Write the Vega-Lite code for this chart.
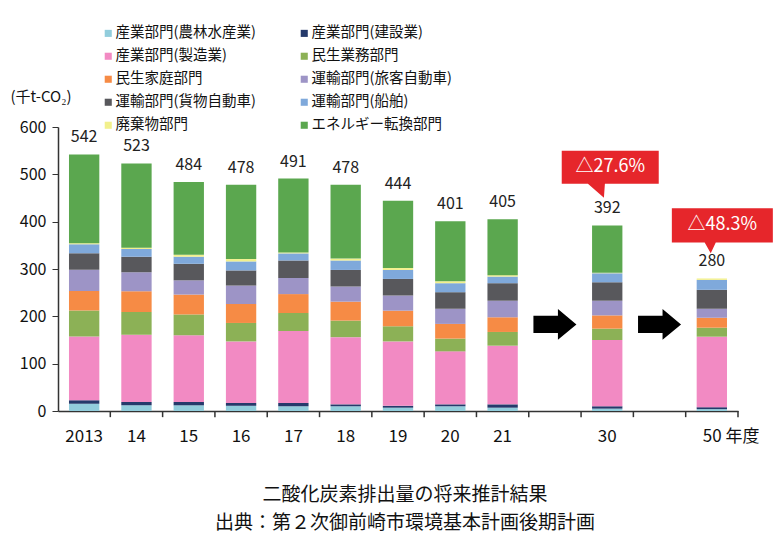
{
  "$schema": "https://vega.github.io/schema/vega-lite/v6.json",
  "width": 680,
  "height": 284,
  "autosize": "none",
  "padding": {"left": 58, "top": 127, "right": 41, "bottom": 130},
  "background": "white",
  "config": {"font": "Noto Sans CJK JP", "view": {"stroke": null}, "axis": {"grid": false}},
  "datasets": {
    "cats": [
      {"cat": "産業部門(農林水産業)", "k": 1},
      {"cat": "産業部門(建設業)", "k": 2},
      {"cat": "産業部門(製造業)", "k": 3},
      {"cat": "民生業務部門", "k": 4},
      {"cat": "民生家庭部門", "k": 5},
      {"cat": "運輸部門(旅客自動車)", "k": 6},
      {"cat": "運輸部門(貨物自動車)", "k": 7},
      {"cat": "運輸部門(船舶)", "k": 8},
      {"cat": "廃棄物部門", "k": 9},
      {"cat": "エネルギー転換部門", "k": 10}
    ],
    "slots": [
      {"year": "2013"}, {"year": "14"}, {"year": "15"}, {"year": "16"}, {"year": "17"}, {"year": "18"}, {"year": "19"},
      {"year": "20"}, {"year": "21"}, {"year": "a1"}, {"year": "30"}, {"year": "a2"}, {"year": "50"}
    ],
    "totals": [
      {"year": "2013", "total": 542}, {"year": "14", "total": 523}, {"year": "15", "total": 484},
      {"year": "16", "total": 478}, {"year": "17", "total": 491}, {"year": "18", "total": 478},
      {"year": "19", "total": 444}, {"year": "20", "total": 401}, {"year": "21", "total": 405},
      {"year": "30", "total": 392}, {"year": "50", "total": 280}
    ],
    "segs": [
      {"year": "2013", "cat": "産業部門(農林水産業)", "v": 15.5},
      {"year": "2013", "cat": "産業部門(建設業)", "v": 7},
      {"year": "2013", "cat": "産業部門(製造業)", "v": 135},
      {"year": "2013", "cat": "民生業務部門", "v": 55},
      {"year": "2013", "cat": "民生家庭部門", "v": 41},
      {"year": "2013", "cat": "運輸部門(旅客自動車)", "v": 45},
      {"year": "2013", "cat": "運輸部門(貨物自動車)", "v": 35},
      {"year": "2013", "cat": "運輸部門(船舶)", "v": 19},
      {"year": "2013", "cat": "廃棄物部門", "v": 2},
      {"year": "2013", "cat": "エネルギー転換部門", "v": 187.5},
      {"year": "14", "cat": "産業部門(農林水産業)", "v": 12},
      {"year": "14", "cat": "産業部門(建設業)", "v": 7},
      {"year": "14", "cat": "産業部門(製造業)", "v": 142},
      {"year": "14", "cat": "民生業務部門", "v": 48},
      {"year": "14", "cat": "民生家庭部門", "v": 44},
      {"year": "14", "cat": "運輸部門(旅客自動車)", "v": 40},
      {"year": "14", "cat": "運輸部門(貨物自動車)", "v": 33},
      {"year": "14", "cat": "運輸部門(船舶)", "v": 16},
      {"year": "14", "cat": "廃棄物部門", "v": 3},
      {"year": "14", "cat": "エネルギー転換部門", "v": 178},
      {"year": "15", "cat": "産業部門(農林水産業)", "v": 12},
      {"year": "15", "cat": "産業部門(建設業)", "v": 7},
      {"year": "15", "cat": "産業部門(製造業)", "v": 141},
      {"year": "15", "cat": "民生業務部門", "v": 44},
      {"year": "15", "cat": "民生家庭部門", "v": 42},
      {"year": "15", "cat": "運輸部門(旅客自動車)", "v": 30},
      {"year": "15", "cat": "運輸部門(貨物自動車)", "v": 35},
      {"year": "15", "cat": "運輸部門(船舶)", "v": 15},
      {"year": "15", "cat": "廃棄物部門", "v": 4},
      {"year": "15", "cat": "エネルギー転換部門", "v": 154},
      {"year": "16", "cat": "産業部門(農林水産業)", "v": 11},
      {"year": "16", "cat": "産業部門(建設業)", "v": 6},
      {"year": "16", "cat": "産業部門(製造業)", "v": 130},
      {"year": "16", "cat": "民生業務部門", "v": 39},
      {"year": "16", "cat": "民生家庭部門", "v": 40},
      {"year": "16", "cat": "運輸部門(旅客自動車)", "v": 39},
      {"year": "16", "cat": "運輸部門(貨物自動車)", "v": 32},
      {"year": "16", "cat": "運輸部門(船舶)", "v": 19},
      {"year": "16", "cat": "廃棄物部門", "v": 5},
      {"year": "16", "cat": "エネルギー転換部門", "v": 157},
      {"year": "17", "cat": "産業部門(農林水産業)", "v": 10},
      {"year": "17", "cat": "産業部門(建設業)", "v": 7},
      {"year": "17", "cat": "産業部門(製造業)", "v": 152},
      {"year": "17", "cat": "民生業務部門", "v": 38},
      {"year": "17", "cat": "民生家庭部門", "v": 40},
      {"year": "17", "cat": "運輸部門(旅客自動車)", "v": 34},
      {"year": "17", "cat": "運輸部門(貨物自動車)", "v": 37},
      {"year": "17", "cat": "運輸部門(船舶)", "v": 15},
      {"year": "17", "cat": "廃棄物部門", "v": 2},
      {"year": "17", "cat": "エネルギー転換部門", "v": 156},
      {"year": "18", "cat": "産業部門(農林水産業)", "v": 10},
      {"year": "18", "cat": "産業部門(建設業)", "v": 4},
      {"year": "18", "cat": "産業部門(製造業)", "v": 142},
      {"year": "18", "cat": "民生業務部門", "v": 35},
      {"year": "18", "cat": "民生家庭部門", "v": 40},
      {"year": "18", "cat": "運輸部門(旅客自動車)", "v": 32},
      {"year": "18", "cat": "運輸部門(貨物自動車)", "v": 35},
      {"year": "18", "cat": "運輸部門(船舶)", "v": 20},
      {"year": "18", "cat": "廃棄物部門", "v": 4},
      {"year": "18", "cat": "エネルギー転換部門", "v": 156},
      {"year": "19", "cat": "産業部門(農林水産業)", "v": 7},
      {"year": "19", "cat": "産業部門(建設業)", "v": 4},
      {"year": "19", "cat": "産業部門(製造業)", "v": 136},
      {"year": "19", "cat": "民生業務部門", "v": 32},
      {"year": "19", "cat": "民生家庭部門", "v": 33},
      {"year": "19", "cat": "運輸部門(旅客自動車)", "v": 32},
      {"year": "19", "cat": "運輸部門(貨物自動車)", "v": 35},
      {"year": "19", "cat": "運輸部門(船舶)", "v": 19},
      {"year": "19", "cat": "廃棄物部門", "v": 4},
      {"year": "19", "cat": "エネルギー転換部門", "v": 142},
      {"year": "20", "cat": "産業部門(農林水産業)", "v": 10},
      {"year": "20", "cat": "産業部門(建設業)", "v": 4},
      {"year": "20", "cat": "産業部門(製造業)", "v": 112},
      {"year": "20", "cat": "民生業務部門", "v": 27},
      {"year": "20", "cat": "民生家庭部門", "v": 31},
      {"year": "20", "cat": "運輸部門(旅客自動車)", "v": 32},
      {"year": "20", "cat": "運輸部門(貨物自動車)", "v": 35},
      {"year": "20", "cat": "運輸部門(船舶)", "v": 19},
      {"year": "20", "cat": "廃棄物部門", "v": 4},
      {"year": "20", "cat": "エネルギー転換部門", "v": 127},
      {"year": "21", "cat": "産業部門(農林水産業)", "v": 7},
      {"year": "21", "cat": "産業部門(建設業)", "v": 7},
      {"year": "21", "cat": "産業部門(製造業)", "v": 124},
      {"year": "21", "cat": "民生業務部門", "v": 29},
      {"year": "21", "cat": "民生家庭部門", "v": 31},
      {"year": "21", "cat": "運輸部門(旅客自動車)", "v": 35},
      {"year": "21", "cat": "運輸部門(貨物自動車)", "v": 37},
      {"year": "21", "cat": "運輸部門(船舶)", "v": 14},
      {"year": "21", "cat": "廃棄物部門", "v": 3},
      {"year": "21", "cat": "エネルギー転換部門", "v": 118},
      {"year": "30", "cat": "産業部門(農林水産業)", "v": 5},
      {"year": "30", "cat": "産業部門(建設業)", "v": 5},
      {"year": "30", "cat": "産業部門(製造業)", "v": 140},
      {"year": "30", "cat": "民生業務部門", "v": 24},
      {"year": "30", "cat": "民生家庭部門", "v": 28},
      {"year": "30", "cat": "運輸部門(旅客自動車)", "v": 31},
      {"year": "30", "cat": "運輸部門(貨物自動車)", "v": 39},
      {"year": "30", "cat": "運輸部門(船舶)", "v": 19},
      {"year": "30", "cat": "廃棄物部門", "v": 1},
      {"year": "30", "cat": "エネルギー転換部門", "v": 100},
      {"year": "50", "cat": "産業部門(農林水産業)", "v": 4},
      {"year": "50", "cat": "産業部門(建設業)", "v": 4},
      {"year": "50", "cat": "産業部門(製造業)", "v": 149},
      {"year": "50", "cat": "民生業務部門", "v": 19},
      {"year": "50", "cat": "民生家庭部門", "v": 21},
      {"year": "50", "cat": "運輸部門(旅客自動車)", "v": 19},
      {"year": "50", "cat": "運輸部門(貨物自動車)", "v": 40},
      {"year": "50", "cat": "運輸部門(船舶)", "v": 21},
      {"year": "50", "cat": "廃棄物部門", "v": 3},
      {"year": "50", "cat": "エネルギー転換部門", "v": 0}
    ]
  },
  "title": {
    "text": ["二酸化炭素排出量の将来推計結果", "出典：第２次御前崎市環境基本計画後期計画"],
    "orient": "bottom",
    "anchor": "middle",
    "fontSize": 19,
    "fontWeight": "normal",
    "color": "#111111",
    "lineHeight": 28,
    "offset": 42,
    "dx": 7
  },
  "resolve": {"axis": {"x": "independent", "y": "independent"}},
  "layer": [
    {
      "data": {"name": "segs"},
      "transform": [{"lookup": "cat", "from": {"data": {"name": "cats"}, "key": "cat", "fields": ["k"]}}],
      "mark": {"type": "bar"},
      "encoding": {
        "x": {
          "field": "year", "type": "nominal",
          "scale": {"domain": ["2013","14","15","16","17","18","19","20","21","a1","30","a2","50"], "paddingInner": 0.42, "paddingOuter": 0.21},
          "axis": {
            "title": null, "ticks": false,
            "labelAngle": 0, "labelFontSize": 17, "labelColor": "#111111", "labelPadding": 17,
            "domainColor": "#333333", "domainWidth": 1.5,
            "labelExpr": "datum.value == 'a1' || datum.value == 'a2' ? '' : (datum.value == '50' ? '50 年度' : datum.value)",
            "labelAlign": {"condition": {"test": "datum.value === '50'", "value": "left"}, "value": "center"},
            "labelOffset": {"condition": {"test": "datum.value === '50'", "value": -9}, "value": 0}
          }
        },
        "y": {
          "field": "v", "type": "quantitative", "stack": "zero",
          "scale": {"domain": [0, 600]},
          "axis": {
            "title": "(千t-CO₂)", "titleAngle": 0, "titleAlign": "left", "titleBaseline": "middle", "titleX": -48, "titleY": -31,
            "titleFontSize": 15, "titleFontWeight": "normal", "titleColor": "#111111",
            "values": [0, 100, 200, 300, 400, 500, 600], "labelFontSize": 16, "labelColor": "#111111",
            "tickSize": 6, "labelPadding": 6, "domainColor": "#333333", "tickColor": "#333333", "domainWidth": 1.5
          }
        },
        "color": {
          "field": "cat", "type": "nominal",
          "scale": {
            "domain": ["産業部門(農林水産業)", "産業部門(製造業)", "民生家庭部門", "運輸部門(貨物自動車)", "廃棄物部門", "産業部門(建設業)", "民生業務部門", "運輸部門(旅客自動車)", "運輸部門(船舶)", "エネルギー転換部門"],
            "range": ["#92CDDC", "#F28AC3", "#F68B45", "#58585C", "#F2F08C", "#253A6B", "#8CB156", "#9D94C6", "#7FA9DB", "#5BA74F"]
          },
          "legend": {
            "title": null, "orient": "none", "legendX": 43, "legendY": -101, "columns": 2, "columnPadding": 41, "rowPadding": 8,
            "symbolType": "square", "symbolSize": 50, "symbolStrokeWidth": 0, "labelFontSize": 14.5, "labelColor": "#111111",
            "labelOffset": 0, "labelLimit": 300
          }
        },
        "order": {"field": "k", "type": "quantitative", "sort": "ascending"}
      }
    },
    {
      "data": {"name": "slots"},
      "mark": {"type": "rule", "color": "#333333", "strokeWidth": 1.5},
      "encoding": {
        "x": {
          "field": "year", "type": "nominal", "bandPosition": 1.362,
          "scale": {"domain": ["2013","14","15","16","17","18","19","20","21","a1","30","a2","50"], "paddingInner": 0.42, "paddingOuter": 0.21},
          "axis": null
        },
        "y": {"datum": 0, "type": "quantitative", "scale": {"domain": [0, 600]}, "axis": null},
        "y2": {"datum": -13}
      }
    },
    {
      "data": {"name": "totals"},
      "mark": {"type": "text", "dy": -9, "fontSize": 16, "color": "#222222", "baseline": "bottom"},
      "encoding": {
        "x": {
          "field": "year", "type": "nominal",
          "scale": {"domain": ["2013","14","15","16","17","18","19","20","21","a1","30","a2","50"], "paddingInner": 0.42, "paddingOuter": 0.21},
          "axis": null
        },
        "y": {"field": "total", "type": "quantitative", "scale": {"domain": [0, 600]}, "axis": null},
        "text": {"field": "total", "type": "quantitative"}
      }
    },
    {
      "data": {"values": [{"year": "a1"}, {"year": "a2"}]},
      "mark": {"type": "point", "shape": "M-1,-0.4L0.14,-0.4L0.14,-0.72L1,0L0.14,0.72L0.14,0.4L-1,0.4Z", "size": 1849, "filled": true, "color": "#000000", "opacity": 1},
      "encoding": {
        "x": {"field": "year", "type": "nominal", "axis": null},
        "y": {"datum": 183, "type": "quantitative", "scale": {"domain": [0, 600]}, "axis": null}
      }
    },
    {
      "data": {"values": [{"year": "30", "label": "△27.6%"}]},
      "layer": [
        {"mark": {"type": "point", "shape": "M-1,-0.34L1,-0.34L1,0.34L-0.11,0.34L-0.13,0.63L-0.46,0.34L-1,0.34Z", "size": 9409, "filled": true, "color": "#E6262B", "opacity": 1, "xOffset": 3}},
        {"mark": {"type": "text", "fontSize": 18, "color": "#ffffff", "xOffset": 3, "baseline": "middle"}, "encoding": {"text": {"field": "label"}}}
      ],
      "encoding": {
        "x": {"field": "year", "type": "nominal", "axis": null},
        "y": {"datum": 515, "type": "quantitative", "scale": {"domain": [0, 600]}, "axis": null}
      }
    },
    {
      "data": {"values": [{"year": "50", "label": "△48.3%"}]},
      "layer": [
        {"mark": {"type": "point", "shape": "M-1,-0.34L1,-0.34L1,0.34L-0.13,0.34L-0.23,0.55L-0.35,0.34L-1,0.34Z", "size": 10201, "filled": true, "color": "#E6262B", "opacity": 1, "xOffset": 10.5}},
        {"mark": {"type": "text", "fontSize": 18, "color": "#ffffff", "xOffset": 10.5, "baseline": "middle"}, "encoding": {"text": {"field": "label"}}}
      ],
      "encoding": {
        "x": {"field": "year", "type": "nominal", "axis": null},
        "y": {"datum": 392, "type": "quantitative", "scale": {"domain": [0, 600]}, "axis": null}
      }
    }
  ]
}
